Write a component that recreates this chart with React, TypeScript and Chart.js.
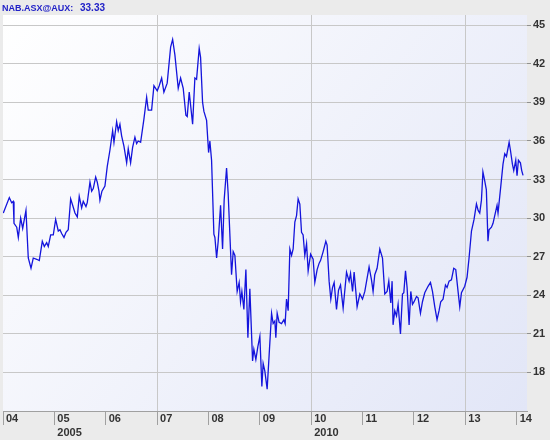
import { useEffect, useRef } from "react";
import { Chart, registerables } from "chart.js";
Chart.register(...registerables);

const seriesName = "NAB.ASX@AUX";
const lastValueText = "33.33";

const years = [
  2004.006, 2004.123, 2004.169, 2004.2, 2004.214, 2004.267, 2004.298, 2004.344, 2004.383, 2004.447,
  2004.492, 2004.545, 2004.589, 2004.656, 2004.706, 2004.765, 2004.804, 2004.85, 2004.881, 2004.928,
  2004.979, 2005.025, 2005.076, 2005.109, 2005.142, 2005.187, 2005.226, 2005.27, 2005.317, 2005.356,
  2005.401, 2005.446, 2005.484, 2005.531, 2005.562, 2005.615, 2005.64, 2005.693, 2005.726, 2005.757,
  2005.804, 2005.835, 2005.868, 2005.887, 2005.926, 2005.984, 2006.029, 2006.082, 2006.134, 2006.16,
  2006.212, 2006.243, 2006.276, 2006.309, 2006.354, 2006.407, 2006.438, 2006.484, 2006.523, 2006.568,
  2006.601, 2006.632, 2006.679, 2006.743, 2006.796, 2006.827, 2006.893, 2006.938, 2007.002, 2007.041,
  2007.088, 2007.132, 2007.196, 2007.263, 2007.302, 2007.346, 2007.411, 2007.457, 2007.508, 2007.56,
  2007.586, 2007.625, 2007.691, 2007.735, 2007.768, 2007.819, 2007.846, 2007.885, 2007.911, 2007.963,
  2008.002, 2008.027, 2008.06, 2008.105, 2008.125, 2008.158, 2008.189, 2008.235, 2008.274, 2008.305,
  2008.352, 2008.383, 2008.449, 2008.481, 2008.514, 2008.558, 2008.597, 2008.624, 2008.65, 2008.689,
  2008.728, 2008.767, 2008.805, 2008.858, 2008.883, 2008.922, 2008.961, 2009.0, 2009.039, 2009.064,
  2009.097, 2009.142, 2009.181, 2009.228, 2009.259, 2009.292, 2009.311, 2009.337, 2009.375, 2009.422,
  2009.467, 2009.492, 2009.519, 2009.551, 2009.584, 2009.617, 2009.648, 2009.681, 2009.714, 2009.745,
  2009.778, 2009.811, 2009.842, 2009.875, 2009.909, 2009.94, 2009.988, 2010.037, 2010.07, 2010.115,
  2010.154, 2010.181, 2010.232, 2010.284, 2010.309, 2010.348, 2010.381, 2010.414, 2010.446, 2010.492,
  2010.531, 2010.57, 2010.621, 2010.687, 2010.737, 2010.765, 2010.804, 2010.835, 2010.868, 2010.893,
  2010.946, 2010.998, 2011.043, 2011.126, 2011.173, 2011.204, 2011.237, 2011.282, 2011.335, 2011.387,
  2011.432, 2011.477, 2011.51, 2011.549, 2011.574, 2011.593, 2011.626, 2011.66, 2011.691, 2011.737,
  2011.776, 2011.802, 2011.835, 2011.866, 2011.905, 2011.938, 2011.971, 2012.002, 2012.049, 2012.08,
  2012.126, 2012.165, 2012.21, 2012.274, 2012.321, 2012.36, 2012.405, 2012.449, 2012.488, 2012.521,
  2012.566, 2012.613, 2012.644, 2012.683, 2012.729, 2012.774, 2012.813, 2012.858, 2012.891, 2012.924,
  2012.988, 2013.033, 2013.072, 2013.119, 2013.169, 2013.216, 2013.249, 2013.28, 2013.313, 2013.342,
  2013.377, 2013.409, 2013.44, 2013.461, 2013.508, 2013.539, 2013.572, 2013.617, 2013.636, 2013.685,
  2013.733, 2013.767, 2013.8, 2013.852, 2013.877, 2013.916, 2013.942, 2013.981, 2014.006, 2014.033,
  2014.072, 2014.097, 2014.123,
];

const prices = [
  30.4, 31.6, 31.2, 31.3, 29.6, 29.3, 28.5, 30.0, 29.2, 30.6,
  26.9, 26.1, 26.9, 26.8, 26.7, 28.2, 27.8, 28.1, 27.8, 28.7,
  28.7, 29.9, 29.0, 29.1, 28.8, 28.5, 28.9, 29.1, 31.5, 31.0,
  30.4, 30.1, 31.7, 30.8, 31.3, 30.9, 31.2, 32.8, 32.1, 32.3,
  33.2, 32.8, 32.1, 31.4, 32.1, 32.5, 34.0, 35.3, 36.8, 35.9,
  37.5, 36.8, 37.3, 36.4, 35.6, 34.3, 35.4, 34.3, 35.5, 36.3,
  35.8, 36.0, 35.9, 37.7, 39.4, 38.4, 38.4, 40.3, 39.9, 40.3,
  40.9, 39.8, 40.5, 43.3, 43.9, 42.7, 40.1, 40.9, 40.1, 38.0,
  37.9, 39.8, 37.3, 40.9, 40.8, 43.2, 42.5, 39.0, 38.3, 37.6,
  35.1, 36.0, 34.5, 28.75, 28.5, 26.9, 28.2, 31.0, 27.6, 31.4,
  33.9, 31.9, 25.6, 27.4, 27.1, 24.3, 25.0, 23.5, 24.3, 22.9,
  26.0, 20.7, 24.5, 18.9, 19.8, 19.0, 20.0, 20.8, 16.9, 18.7,
  18.1, 16.7, 19.4, 22.6, 21.8, 22.0, 20.7, 22.6, 21.9, 21.8,
  22.1, 21.8, 23.7, 22.8, 27.6, 27.1, 27.6, 29.7, 30.2, 31.5,
  31.1, 28.9, 28.7, 27.1, 28.0, 25.9, 27.2, 26.8, 25.0, 26.0,
  26.5, 26.7, 27.4, 28.2, 27.9, 25.1, 23.7, 24.6, 25.0, 22.9,
  24.4, 24.8, 23.0, 25.8, 25.1, 25.7, 24.3, 25.8, 24.3, 23.1,
  24.1, 23.7, 24.3, 26.2, 25.2, 24.3, 25.6, 26.1, 27.6, 26.9,
  24.1, 24.3, 25.1, 23.4, 25.1, 21.7, 22.8, 22.4, 23.3, 21.0,
  24.1, 24.2, 25.9, 24.6, 21.7, 24.3, 23.3, 23.5, 23.9, 23.8,
  22.6, 23.5, 24.2, 24.7, 25.0, 24.3, 23.1, 22.1, 22.8, 23.5,
  23.7, 24.8, 24.6, 25.1, 25.2, 26.1, 26.0, 24.3, 23.1, 24.2,
  24.7, 25.4, 26.9, 29.0, 29.9, 31.1, 30.6, 30.4, 31.4, 33.6,
  32.9, 32.2, 28.2, 29.1, 29.3, 29.6, 30.2, 31.0, 30.4, 32.3,
  34.2, 35.0, 34.8, 35.9, 35.3, 34.2, 33.7, 34.5, 33.3, 34.5,
  34.3, 33.7, 33.33,
];

const yTicks = [18, 21, 24, 27, 30, 33, 36, 39, 42, 45];
const xTickYears = [2004, 2005, 2006, 2007, 2008, 2009, 2010, 2011, 2012, 2013, 2014];
const xTickLabels = ["04", "05", "06", "07", "08", "09", "10", "11", "12", "13", "14"];
const gridYears = [2007, 2010, 2013];
const yearRowValues = [2005, 2010];
const yearRowLabels = ["2005", "2010"];

const FONT = '"Liberation Sans", Arial, sans-serif';

const decor = {
  id: "decor",
  beforeDraw(chart: any) {
    const { ctx, chartArea: a, width, height } = chart;
    ctx.save();
    ctx.fillStyle = "#ebebeb";
    ctx.fillRect(0, 0, width, height);
    const g = ctx.createLinearGradient(a.left, a.top, a.right, a.bottom);
    g.addColorStop(0, "#ffffff");
    g.addColorStop(1, "#e2e6f7");
    ctx.fillStyle = g;
    ctx.fillRect(a.left, a.top, a.right - a.left, a.bottom - a.top);
    ctx.restore();
  },
  afterDraw(chart: any) {
    const { ctx } = chart;
    const xs = chart.scales.x;
    ctx.save();
    ctx.font = `bold 9px ${FONT}`;
    ctx.fillStyle = "#2222c8";
    ctx.textBaseline = "alphabetic";
    ctx.textAlign = "left";
    ctx.fillText(seriesName + ":", 2, 11);
    ctx.font = `bold 10px ${FONT}`;
    ctx.fillText(lastValueText, 80, 11);
    ctx.font = `bold 11px ${FONT}`;
    ctx.fillStyle = "#333333";
    ctx.textBaseline = "middle";
    yearRowValues.forEach((v, i) => {
      ctx.fillText(yearRowLabels[i], xs.getPixelForValue(v) + 3, 433);
    });
    ctx.restore();
  },
};

export default function App() {
  const ref = useRef<HTMLCanvasElement>(null);
  useEffect(() => {
    document.body.style.margin = "0";
    const data = years.map((x, i) => ({ x, y: prices[i] }));
    const chart = new Chart(ref.current!, {
      type: "line",
      data: {
        datasets: [
          {
            data,
            borderColor: "#1414dc",
            borderWidth: 1.3,
            pointRadius: 0,
            tension: 0,
            fill: false,
          },
        ],
      },
      options: {
        animation: false,
        responsive: false,
        devicePixelRatio: 1,
        layout: { padding: { top: 15, left: 3, right: 0, bottom: 0 } },
        plugins: { legend: { display: false }, tooltip: { enabled: false } },
        scales: {
          x: {
            type: "linear",
            min: 2004,
            max: 2014.2,
            afterFit: (s: any) => {
              s.height = 29;
            },
            afterBuildTicks: (s: any) => {
              s.ticks = xTickYears.map((v) => ({ value: v }));
            },
            border: { display: true, color: "#a0a0a0" },
            grid: {
              color: (c: any) =>
                c.tick && gridYears.includes(c.tick.value) ? "#c8c8c8" : "rgba(0,0,0,0)",
              tickColor: "#a0a0a0",
              tickLength: 14,
              drawTicks: true,
            },
            ticks: {
              autoSkip: false,
              maxRotation: 0,
              align: "start",
              labelOffset: 3,
              padding: -13,
              color: "#333333",
              font: { family: FONT, size: 11, weight: "bold" },
              callback: (v: any) => {
                const i = xTickYears.indexOf(v);
                return i >= 0 ? xTickLabels[i] : "";
              },
            },
          },
          y: {
            type: "linear",
            position: "right",
            min: 15,
            max: 45.8,
            afterFit: (s: any) => {
              s.width = 23;
            },
            afterBuildTicks: (s: any) => {
              s.ticks = yTicks.map((v) => ({ value: v }));
            },
            border: { display: false },
            grid: {
              color: "#c8c8c8",
              tickColor: "#909090",
              tickLength: 4,
            },
            ticks: {
              padding: 2,
              color: "#333333",
              font: { family: FONT, size: 11, weight: "bold" },
            },
          },
        },
      },
      plugins: [decor],
    } as any);
    return () => chart.destroy();
  }, []);
  return (
    <div style={{ width: 550, height: 440 }}>
      <canvas ref={ref} width={550} height={440} style={{ display: "block" }} />
    </div>
  );
}
